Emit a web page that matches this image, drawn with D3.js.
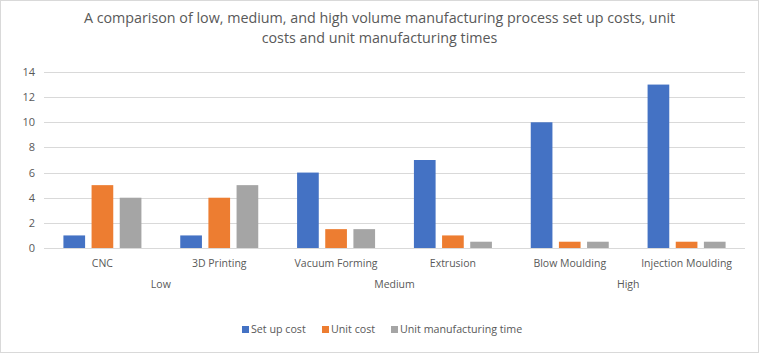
<!DOCTYPE html>
<html>
<head>
<meta charset="utf-8">
<script src="https://cdn.jsdelivr.net/npm/d3@7"></script>
<style>
  body { margin: 0; background: #fff; }
  text { font-family: "Open Sans", "Liberation Sans", sans-serif; fill: #595959; }
</style>
</head>
<body>
<svg id="chart" width="759" height="353"></svg>
<script>
// Chart data
const categories = ["CNC", "3D Printing", "Vacuum Forming", "Extrusion", "Blow Moulding", "Injection Moulding"];
const groups = [
    { name: "Low", members: ["CNC", "3D Printing"] },
    { name: "Medium", members: ["Vacuum Forming", "Extrusion"] },
    { name: "High", members: ["Blow Moulding", "Injection Moulding"] }
];
const seriesNames = ["Set up cost", "Unit cost", "Unit manufacturing time"];
const setUpCost = [1, 1, 6, 7, 10, 13];
const unitCost = [5, 4, 1.5, 1, 0.5, 0.5];
const unitTime = [4, 5, 1.5, 0.5, 0.5, 0.5];
const yTicks = [0, 2, 4, 6, 8, 10, 12, 14];
const colors = ["#4472C4", "#ED7D31", "#A5A5A5"];
const titleLines = [
    "A comparison of low, medium, and high volume manufacturing process set up costs, unit",
    "costs and unit manufacturing times"
];

const seriesValues = [setUpCost, unitCost, unitTime];
const width = 759, height = 353;
const margin = { top: 72, right: 14, bottom: 105, left: 44 };

const svg = d3.select("#chart");

// outer border
svg.append("rect")
    .attr("x", 0.5).attr("y", 0.5)
    .attr("width", width - 1).attr("height", height - 1)
    .attr("fill", "#fff")
    .attr("stroke", "#D9D9D9");

// title
svg.append("g").selectAll("text")
    .data(titleLines)
    .join("text")
    .attr("x", width / 2)
    .attr("y", (d, i) => 23 + i * 20)
    .attr("text-anchor", "middle")
    .style("font-size", "14.3px")
    .text(d => d);

const x = d3.scaleBand()
    .domain(categories)
    .range([margin.left, width - margin.right]);

const xSeries = d3.scaleBand()
    .domain(seriesNames)
    .range([0, 78])
    .paddingInner(0.23);

const y = d3.scaleLinear()
    .domain([0, 14])
    .range([height - margin.bottom, margin.top]);

// gridlines
svg.append("g").selectAll("line")
    .data(yTicks)
    .join("line")
    .attr("x1", margin.left)
    .attr("x2", width - margin.right)
    .attr("y1", d => Math.round(y(d)) + 0.5)
    .attr("y2", d => Math.round(y(d)) + 0.5)
    .attr("stroke", "#D9D9D9");

// y axis labels
svg.append("g").selectAll("text")
    .data(yTicks)
    .join("text")
    .attr("x", margin.left - 9)
    .attr("y", d => y(d) + 4)
    .attr("text-anchor", "end")
    .style("font-size", "11px")
    .text(d => d);

// bars
const catGroups = svg.append("g").selectAll("g")
    .data(categories)
    .join("g")
    .attr("transform", d => `translate(${x(d) + x.bandwidth() / 2 - 39},0)`);

catGroups.selectAll("rect")
    .data((c, i) => seriesNames.map((s, k) => ({ series: s, value: seriesValues[k][i], k })))
    .join("rect")
    .attr("x", d => xSeries(d.series))
    .attr("y", d => y(d.value))
    .attr("width", xSeries.bandwidth())
    .attr("height", d => y(0) - y(d.value))
    .attr("fill", d => colors[d.k]);

// category labels
svg.append("g").selectAll("text")
    .data(categories)
    .join("text")
    .attr("x", d => x(d) + x.bandwidth() / 2)
    .attr("y", y(0) + 19)
    .attr("text-anchor", "middle")
    .style("font-size", "10.5px")
    .text(d => d);

// group labels
svg.append("g").selectAll("text")
    .data(groups)
    .join("text")
    .attr("x", d => (x(d.members[0]) + x(d.members[1]) + x.bandwidth()) / 2)
    .attr("y", y(0) + 40)
    .attr("text-anchor", "middle")
    .style("font-size", "10.5px")
    .text(d => d.name);

// legend
const legendX = [242, 322, 391];
const legend = svg.append("g").selectAll("g")
    .data(seriesNames)
    .join("g")
    .attr("transform", (d, i) => `translate(${legendX[i]},326)`);

legend.append("rect")
    .attr("width", 7).attr("height", 7)
    .attr("fill", (d, i) => colors[i]);

legend.append("text")
    .attr("x", 9)
    .attr("y", 7)
    .style("font-size", "10.7px")
    .text(d => d);
</script>
</body>
</html>
